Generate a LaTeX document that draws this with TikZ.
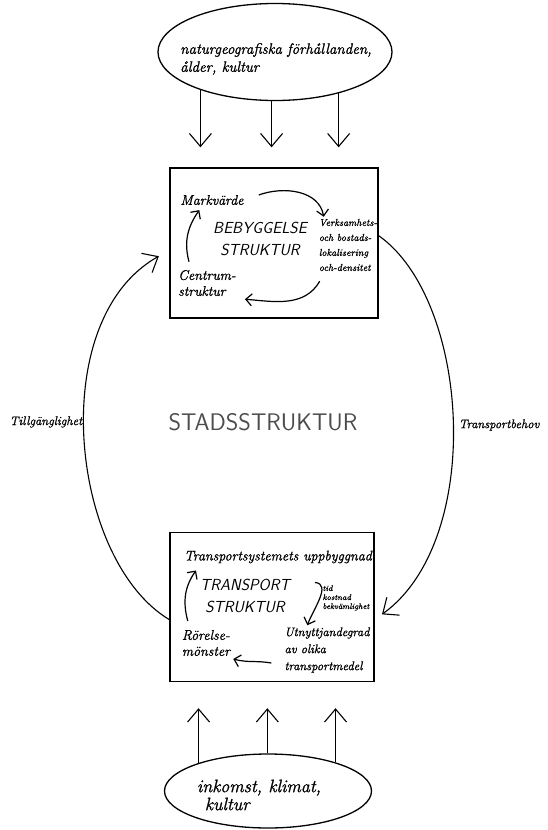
\documentclass[tikz,border=0pt]{standalone}
\usepackage{fontspec}
\newfontfamily\handfont{Latin Modern Roman}[FakeBold=1.2]
\usetikzlibrary{arrows.meta,shapes.geometric,positioning}

\begin{document}
\begin{tikzpicture}[x=1pt,y=-1pt,
    hand/.style={font=\handfont\itshape\fontsize{14}{16}\selectfont, align=left, inner sep=1pt},
    caps/.style={font=\sffamily\slshape\fontsize{16}{22}\selectfont, align=center},
    liten/.style={font=\handfont\itshape\fontsize{10}{15}\selectfont, align=left, inner sep=0pt},
    faktor/.style={draw, ellipse, line width=1.3pt},
    ruta/.style={draw, line width=1.4pt},
    pil/.style={line width=1.1pt, -{Straight Barb[length=13pt,width=22pt]}},
    inre/.style={line width=1.2pt, -{Straight Barb[length=6pt,width=12pt]}},
  ]
  \useasboundingbox (0,0) rectangle (547,830);

  % yttre faktorer
  \node[faktor, minimum width=234pt, minimum height=97pt] (natur) at (275,52) {};
  \node[hand, font=\handfont\itshape\fontsize{15}{18}\selectfont] (naturtext) at (276,59) {naturgeografiska förhållanden,\\ ålder, kultur};
  \node[faktor, minimum width=207pt, minimum height=74pt] (inkomst) at (268,791) {};
  \node[hand, font=\handfont\itshape\fontsize{18}{18}\selectfont] (inkomsttext) at (259,795) {inkomst, klimat,\\ \hspace*{8pt}kultur};

  % de två delstrukturerna
  \node[ruta, minimum width=208pt, minimum height=150pt] (bebyggelse) at (274,243) {};
  \node[ruta, minimum width=204pt, minimum height=149pt] (transport) at (272,607) {};

  % inne i bebyggelsestrukturen
  \node[hand] (markvarde) at (212,200) {Markvärde};
  \node[caps] (bebtext) at (260,239) {BEBYGGELSE\\STRUKTUR};
  \node[liten] (lokalisering) at (348,245) {Verksamhets-\\och bostads-\\lokalisering\\och-densitet};
  \node[hand] (centrum) at (207,283) {Centrum-\\struktur};
  \draw[inre] ([xshift=14pt,yshift=5pt]markvarde.east) to[out=20, in=100] ([xshift=5pt,yshift=2pt]lokalisering.north west);
  \draw[inre] ([xshift=1pt,yshift=-10pt]lokalisering.south west) to[out=-120, in=-5] ([xshift=8pt,yshift=-2pt]centrum.south east);
  \draw[inre] ([xshift=12pt,yshift=7pt]centrum.north west) to[out=105, in=235] ([xshift=20pt,yshift=-4pt]markvarde.south west);

  % inne i transportstrukturen
  \node[hand] (system) at (278,557) {Transportsystemets uppbyggnad};
  \node[caps] (transtext) at (245,596) {TRANSPORT\\STRUKTUR};
  \node[font=\handfont\itshape\fontsize{8}{9}\selectfont, align=left, inner sep=0pt] (kostnad) at (346,598) {tid\\kostnad\\bekvämlighet};
  \node[hand] (rorelse) at (206,643) {Rörelse-\\mönster};
  \node[hand, font=\handfont\itshape\fontsize{12.5}{17}\selectfont] (utnyttjande) at (327,650) {Utnyttjandegrad\\av olika\\transportmedel};
  \draw[inre] ([xshift=7pt,yshift=8pt]rorelse.north west) to[out=105, in=235] ([xshift=13pt,yshift=-6pt]system.south west);
  \draw[inre] ([xshift=-58pt,yshift=-18pt]system.south east) to[out=-5, in=70] ([xshift=24pt,yshift=1pt]utnyttjande.north west);
  \draw[inre] ([xshift=-12pt,yshift=-13pt]utnyttjande.west) to[out=170, in=-15] ([xshift=2pt,yshift=-16pt]rorelse.east);

  % påverkan utifrån
  \foreach \v in {207,266,327}
    \draw[pil, shorten >=20pt] (natur.\v) -- (natur.\v |- bebyggelse.north);
  \foreach \v in {158,91,23}
    \draw[pil, shorten >=26pt] (inkomst.\v) -- (inkomst.\v |- transport.south);

  % sambanden mellan strukturerna
  \draw[pil, shorten >=12pt] (transport.187) .. controls (70,560) and (45,320) .. (bebyggelse.184);
  \draw[pil, shorten >=9pt] (bebyggelse.4) .. controls (470,300) and (485,540) .. (transport.353);
  \node[hand, font=\handfont\itshape\fontsize{12.5}{14}\selectfont] (tillg) at (46,422) {Tillgänglighet};
  \node[hand, font=\handfont\itshape\fontsize{12.5}{14}\selectfont] (behov) at (499,425) {Transportbehov};

  \node[font=\sffamily\fontsize{24}{24}\selectfont, text=black!70] (stad) at (263,422) {STADSSTRUKTUR};
\end{tikzpicture}
\end{document}
